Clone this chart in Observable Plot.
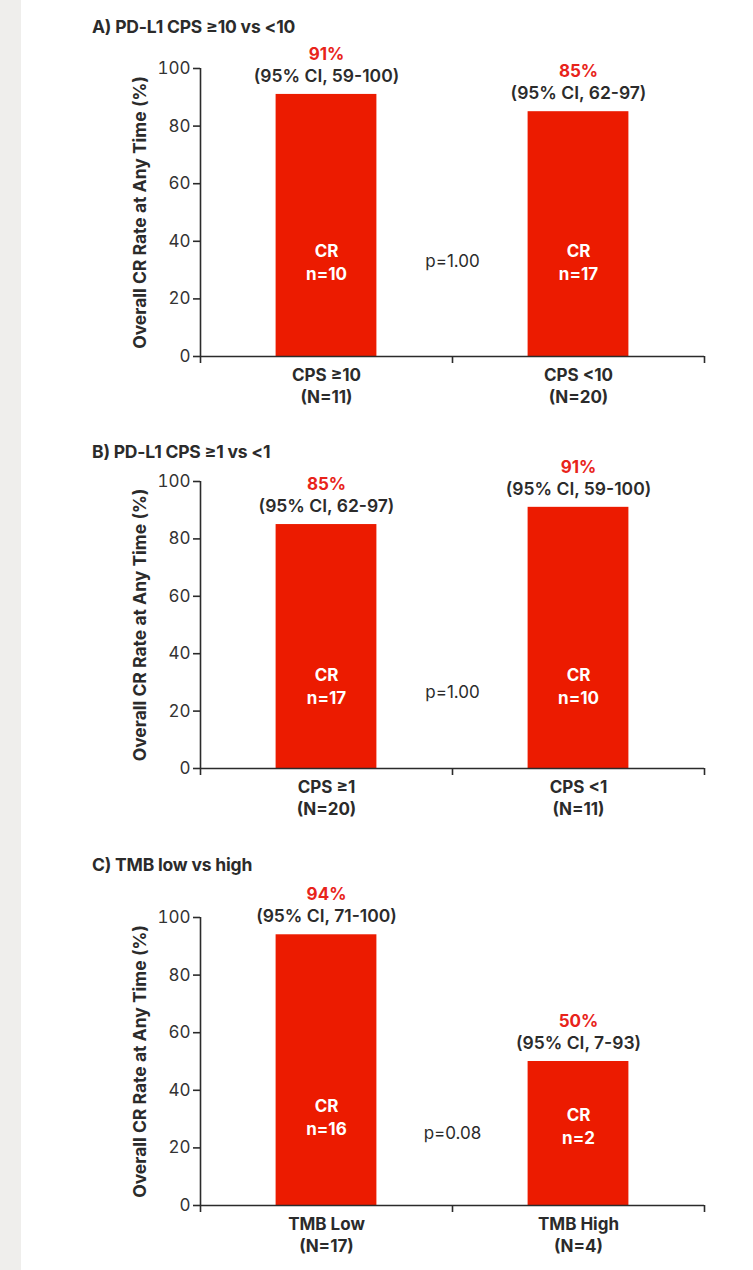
<!DOCTYPE html>
<html>
<head>
<meta charset="utf-8">
<script src="https://cdn.jsdelivr.net/npm/d3@7"></script>
<script src="https://cdn.jsdelivr.net/npm/@observablehq/plot@0.6"></script>
<style>
  html, body { margin: 0; padding: 0; background: #fff; }
  #wrap { position: relative; width: 753px; height: 1270px; overflow: hidden; background: #fff; font-family: Inter, "Liberation Sans", sans-serif; }
  #strip { position: absolute; left: 0; top: 0; width: 21px; height: 1270px; background: #efeeec; }
  .title { position: absolute; left: 92px; font-size: 17.5px; font-weight: 700; color: #2b2b2b; line-height: 20px; white-space: nowrap; letter-spacing: -0.2px; }
  .panel { position: absolute; left: 0; }
</style>
</head>
<body>
<div id="wrap"><div id="strip"></div></div>
<script>
// ---- data ----
const panelTitles = ["A) PD-L1 CPS ≥10 vs <10", "B) PD-L1 CPS ≥1 vs <1", "C) TMB low vs high"];
const groupLabels = [["CPS ≥10", "CPS <10"], ["CPS ≥1", "CPS <1"], ["TMB Low", "TMB High"]];
const groupN = [[11, 20], [20, 11], [17, 4]];
const crRate = [[91, 85], [85, 91], [94, 50]];
const ciLow = [[59, 62], [62, 59], [71, 7]];
const ciHigh = [[100, 97], [97, 100], [100, 93]];
const crN = [[10, 17], [17, 10], [16, 2]];
const pValues = ["1.00", "1.00", "0.08"];
const yTicks = [0, 20, 40, 60, 80, 100];
const yLabel = "Overall CR Rate at Any Time (%)";

// ---- layout (not data) ----
const layout = [
  {titleTop: 17, axisTop: 68, axisBottom: 356, inY: [33, 33], pY: 33},
  {titleTop: 442, axisTop: 481, axisBottom: 768, inY: [29, 29], pY: 26.5},
  {titleTop: 855, axisTop: 917, axisBottom: 1205, inY: [31, 28], pY: 25}
];

const RED = "#ec1b00";
const RED_TXT = "#e8231a";
const INK = "#2b2b2b";
const FONT = "Inter, 'Liberation Sans', sans-serif";
const mTop = 50, mBottom = 52;

const wrap = document.getElementById("wrap");

panelTitles.forEach((title, p) => {
  const L = layout[p];
  const rows = groupLabels[p].map((g, i) => ({
    i, g, N: groupN[p][i], rate: crRate[p][i], lo: ciLow[p][i], hi: ciHigh[p][i], n: crN[p][i], inY: L.inY[i]
  }));
  const h = mTop + (L.axisBottom - L.axisTop) + mBottom;
  const chart = Plot.plot({
    width: 753,
    height: h,
    marginTop: mTop,
    marginBottom: mBottom,
    marginLeft: 200,
    marginRight: 49,
    style: {background: "transparent", fontFamily: FONT, color: INK, overflow: "visible"},
    x: {type: "linear", domain: [0, 2]},
    y: {domain: [0, 100]},
    marks: [
      Plot.rectY(rows, {x1: d => d.i + 0.3, x2: d => d.i + 0.7, y1: 0, y2: "rate", fill: RED}),
      Plot.ruleX([0], {y1: 0, y2: 100, stroke: INK, strokeWidth: 1.6}),
      Plot.ruleY([0], {x1: 0, x2: 2, stroke: INK, strokeWidth: 1.6}),
      Plot.axisY({ticks: yTicks, tickSize: 7, tickPadding: 3, fontSize: 17, label: null, stroke: INK, strokeWidth: 1.6, fill: "#333"}),
      Plot.axisX({ticks: [0, 1, 2], tickSize: 7, tickFormat: () => "", label: null, stroke: INK, strokeWidth: 1.6}),
      Plot.text([yLabel], {frameAnchor: "left", textAnchor: "middle", rotate: -90, dx: -60, fontSize: 17.5, fontWeight: 700, fill: INK}),
      Plot.text(rows, {x: d => d.i + 0.5, y: "rate", text: d => `${d.rate}%`, dy: -40, fontSize: 17, fontWeight: 700, fill: RED_TXT}),
      Plot.text(rows, {x: d => d.i + 0.5, y: "rate", text: d => `(95% CI, ${d.lo}-${d.hi})`, dy: -18, fontSize: 17.5, fontWeight: 600, fill: INK}),
      Plot.text(rows, {x: d => d.i + 0.5, y: "inY", text: d => `CR\nn=${d.n}`, lineHeight: 1.35, fontSize: 17, fontWeight: 700, fill: "white"}),
      Plot.text([pValues[p]], {x: 1, y: L.pY, text: d => `p=${d}`, fontSize: 17, fontWeight: 400, fill: INK}),
      Plot.text(rows, {x: d => d.i + 0.5, y: 0, text: d => `${d.g}\n(N=${d.N})`, dy: 28, lineHeight: 1.3, fontSize: 17, fontWeight: 700, fill: INK})
    ]
  });
  const div = document.createElement("div");
  div.className = "panel";
  div.style.top = (L.axisTop - mTop) + "px";
  div.appendChild(chart);
  wrap.appendChild(div);
  const t = document.createElement("div");
  t.className = "title";
  t.style.top = L.titleTop + "px";
  t.textContent = title;
  wrap.appendChild(t);
});
</script>
</body>
</html>
